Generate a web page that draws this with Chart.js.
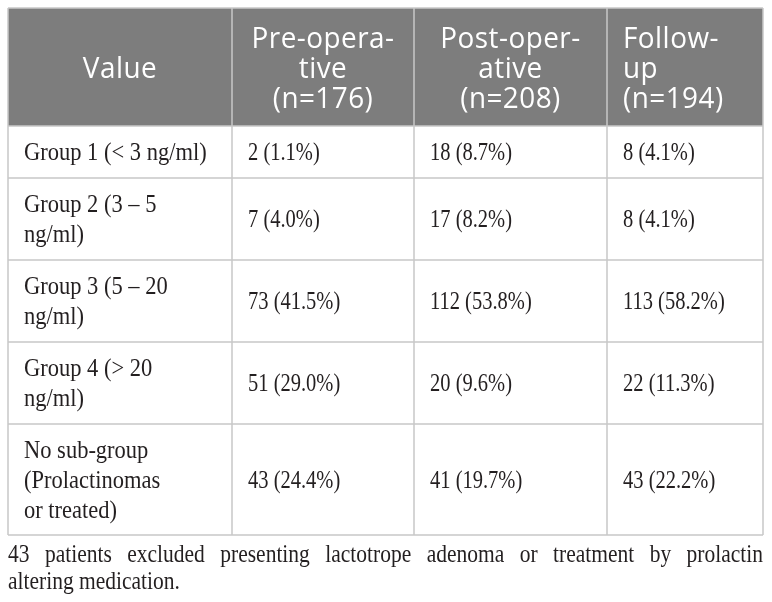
<!DOCTYPE html>
<html>
<head>
<meta charset="utf-8">
<script src="https://cdn.jsdelivr.net/npm/chart.js@4"></script>
<style>
  html, body { margin: 0; padding: 0; background: #ffffff; }
  #tableChart { display: block; }
</style>
</head>
<body>
<canvas id="tableChart" width="772" height="602"></canvas>
<script>
// Table content
const headerLines = [
    ['Value'],
    ['Pre-opera-', 'tive', '(n=176)'],
    ['Post-oper-', 'ative', '(n=208)'],
    ['Follow-', 'up', '(n=194)']
];
const rowLabels = [
    ['Group 1 (< 3 ng/ml)'],
    ['Group 2 (3 \u2013 5', 'ng/ml)'],
    ['Group 3 (5 \u2013 20', 'ng/ml)'],
    ['Group 4 (> 20', 'ng/ml)'],
    ['No sub-group', '(Prolactinomas', 'or treated)']
];
const preOpCounts = [2, 7, 73, 51, 43];
const preOpPct = [1.1, 4.0, 41.5, 29.0, 24.4];
const postOpCounts = [18, 17, 112, 20, 41];
const postOpPct = [8.7, 8.2, 53.8, 9.6, 19.7];
const followUpCounts = [8, 8, 113, 22, 43];
const followUpPct = [4.1, 4.1, 58.2, 11.3, 22.2];
const footnoteLines = [
    '43 patients excluded presenting lactotrope adenoma or treatment by prolactin',
    'altering medication.'
];

// Layout (in scale units, which map 1:1 onto the canvas)
const colEdges = [8, 232, 414, 607, 763];
const rowEdges = [8, 126, 178, 260, 342, 424, 535];
const headerAlign = ['center', 'center', 'center', 'left'];
const cellPad = 16;
const lineGap = 30;

const HEADER_BG = '#7d7d7d';
const GRID = '#c8c8c8';
const BODY_TEXT = '#231f20';
const HEADER_FONT = '30px "Open Sans"';
const HEADER_SX = 0.93;
const BODY_FONT = '25px "Liberation Serif"';
const LABEL_SX = 0.9;
const VALUE_SX = 0.82;
const NOTE_SX = 0.86;

function cellText(counts, pct, i) {
    return counts[i] + ' (' + pct[i].toFixed(1) + '%)';
}

function drawText(ctx, text, x, y, align, sx) {
    ctx.save();
    ctx.translate(x, y);
    ctx.scale(sx, 1);
    ctx.textAlign = align;
    ctx.fillText(text, 0, 0);
    ctx.restore();
}

const tablePlugin = {
    id: 'tableCells',
    afterDraw(chart) {
        const ctx = chart.ctx;
        const xs = chart.scales.x;
        const ys = chart.scales.y;
        const px = v => xs.getPixelForValue(v);
        const py = v => ys.getPixelForValue(v);
        const left = px(colEdges[0]);
        const right = px(colEdges[colEdges.length - 1]);
        const top = py(rowEdges[0]);
        const bottom = py(rowEdges[rowEdges.length - 1]);

        ctx.save();
        ctx.textBaseline = 'alphabetic';

        // header band
        ctx.fillStyle = HEADER_BG;
        ctx.fillRect(left, top, right - left, py(rowEdges[1]) - top);

        // grid
        ctx.strokeStyle = GRID;
        ctx.lineWidth = 1.5;
        ctx.beginPath();
        rowEdges.forEach(r => {
            ctx.moveTo(left, py(r));
            ctx.lineTo(right, py(r));
        });
        colEdges.forEach(c => {
            ctx.moveTo(px(c), top);
            ctx.lineTo(px(c), bottom);
        });
        ctx.stroke();

        // header text
        ctx.fillStyle = '#ffffff';
        ctx.font = HEADER_FONT;
        ctx.letterSpacing = '0.5px';
        headerLines.forEach((lines, c) => {
            const mid = (py(rowEdges[0]) + py(rowEdges[1])) / 2;
            const x = headerAlign[c] === 'center'
                ? (px(colEdges[c]) + px(colEdges[c + 1])) / 2
                : px(colEdges[c]) + cellPad;
            lines.forEach((t, k) => {
                const y = mid + (k - (lines.length - 1) / 2) * lineGap + 11;
                drawText(ctx, t, x, y, headerAlign[c], HEADER_SX);
            });
        });
        ctx.letterSpacing = '0px';

        // body rows
        ctx.fillStyle = BODY_TEXT;
        ctx.font = BODY_FONT;
        const valueCols = [[preOpCounts, preOpPct], [postOpCounts, postOpPct], [followUpCounts, followUpPct]];
        rowLabels.forEach((lines, i) => {
            const mid = (py(rowEdges[i + 1]) + py(rowEdges[i + 2])) / 2;
            lines.forEach((t, k) => {
                const y = mid + (k - (lines.length - 1) / 2) * lineGap + 8;
                drawText(ctx, t, px(colEdges[0]) + cellPad, y, 'left', LABEL_SX);
            });
            valueCols.forEach((vc, j) => {
                drawText(ctx, cellText(vc[0], vc[1], i), px(colEdges[j + 1]) + cellPad, mid + 8, 'left', VALUE_SX);
            });
        });

        // footnote, first line justified to the table width
        const words = footnoteLines[0].split(' ');
        const widths = words.map(w => ctx.measureText(w).width * NOTE_SX);
        const gap = (right - left - widths.reduce((a, b) => a + b, 0)) / (words.length - 1);
        let fx = left;
        words.forEach((w, k) => {
            drawText(ctx, w, fx, py(562), 'left', NOTE_SX);
            fx += widths[k] + gap;
        });
        drawText(ctx, footnoteLines[1], left, py(589), 'left', NOTE_SX);

        ctx.restore();
    }
};

document.addEventListener('DOMContentLoaded', function() {
    const tableCtx = document.getElementById('tableChart').getContext('2d');
    new Chart(tableCtx, {
        type: 'scatter',
        data: { datasets: [] },
        options: {
            responsive: false,
            animation: false,
            layout: { padding: 0 },
            plugins: {
                legend: { display: false },
                tooltip: { enabled: false }
            },
            scales: {
                x: { type: 'linear', min: 0, max: 772, display: false },
                y: { type: 'linear', min: 0, max: 602, reverse: true, display: false }
            }
        },
        plugins: [tablePlugin]
    });
});
</script>
</body>
</html>
